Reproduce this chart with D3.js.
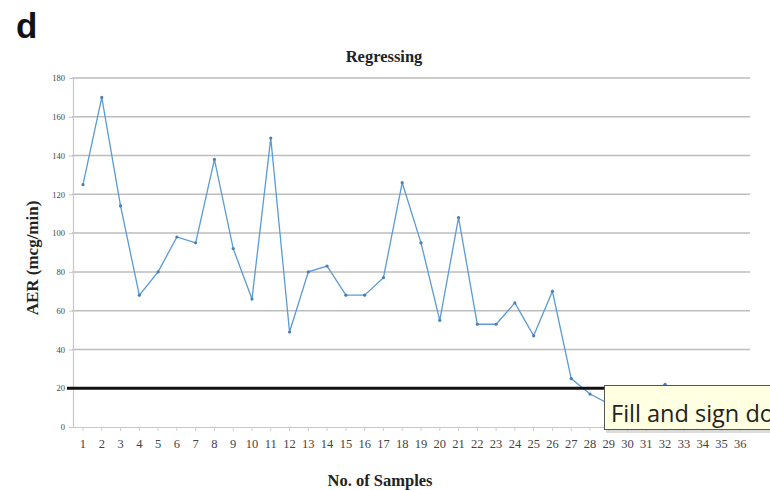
<!DOCTYPE html>
<html>
<head>
<meta charset="utf-8">
<script src="https://cdn.jsdelivr.net/npm/d3@7"></script>
<style>
  html, body { margin: 0; padding: 0; background: #fff; }
  svg { display: block; }
</style>
</head>
<body>
<svg id="chart" width="770" height="490"></svg>
<script>
// Sample numbers shown along the x axis
const samples = d3.range(1, 37);
// AER readings per sample (mcg/min)
const aerSamples = [1, 2, 3, 4, 5, 6, 7, 8, 9, 10, 11, 12, 13, 14, 15, 16, 17, 18, 19, 20, 21, 22, 23, 24, 25, 26, 27, 28, 29, 30, 31, 32];
const aerValues  = [125, 170, 114, 68, 80, 98, 95, 138, 92, 66, 149, 49, 80, 83, 68, 68, 77, 126, 95, 55, 108, 53, 53, 64, 47, 70, 25, 17, 12, 14, 17, 22];
// Y axis ticks
const yTicks = [0, 20, 40, 60, 80, 100, 120, 140, 160, 180];
// Reference threshold
const threshold = 20;

const svg = d3.select("#chart");

const x = d3.scaleBand().domain(samples).range([73.6, 749.6]).paddingInner(0).paddingOuter(0);
const y = d3.scaleLinear().domain([0, 180]).range([427, 78]);
const cx = d => x(d) + x.bandwidth() / 2;

// panel letter
svg.append("text")
  .attr("x", 16).attr("y", 38)
  .attr("font-family", "Liberation Sans, Arial, sans-serif")
  .attr("font-weight", "bold").attr("font-size", 35)
  .attr("fill", "#111").text("d");

// title
svg.append("text")
  .attr("x", 384).attr("y", 62)
  .attr("text-anchor", "middle")
  .attr("font-family", "Liberation Serif, Times New Roman, serif")
  .attr("font-weight", "bold").attr("font-size", 16.5)
  .attr("fill", "#222").text("Regressing");

// horizontal gridlines
svg.append("g").selectAll("line")
  .data(yTicks.filter(t => t > 0))
  .join("line")
  .attr("x1", 72).attr("x2", 750)
  .attr("y1", d => y(d)).attr("y2", d => y(d))
  .attr("stroke", "#bdbdbd").attr("stroke-width", 1.5);

// y axis
const yAxis = d3.axisLeft(y).tickValues(yTicks).tickSize(4).tickPadding(4);
const gy = svg.append("g").attr("transform", "translate(73,0)").call(yAxis);
gy.select(".domain").attr("stroke", "#c8c8c8").attr("stroke-width", 1.2);
gy.selectAll(".tick line").attr("stroke", "#c8c8c8");
gy.selectAll(".tick text")
  .attr("font-family", "Liberation Serif, Times New Roman, serif")
  .attr("font-size", 8.5).attr("fill", "#444");

// x axis
const xAxis = d3.axisBottom(x).tickSize(4).tickPadding(8).tickSizeOuter(0);
const gx = svg.append("g").attr("transform", "translate(0,427)").call(xAxis);
gx.select(".domain").attr("stroke", "#c8c8c8").attr("stroke-width", 1.2);
gx.selectAll(".tick line").attr("stroke", "#cfcfcf");
gx.selectAll(".tick text")
  .attr("font-family", "Liberation Serif, Times New Roman, serif")
  .attr("font-size", 12.5).attr("fill", "#444");

// axis titles
svg.append("text")
  .attr("x", 380).attr("y", 486)
  .attr("text-anchor", "middle")
  .attr("font-family", "Liberation Serif, Times New Roman, serif")
  .attr("font-weight", "bold").attr("font-size", 16.5)
  .attr("fill", "#222").text("No. of Samples");

svg.append("text")
  .attr("transform", "translate(38,258) rotate(-90)")
  .attr("text-anchor", "middle")
  .attr("font-family", "Liberation Serif, Times New Roman, serif")
  .attr("font-weight", "bold").attr("font-size", 17)
  .attr("fill", "#222").text("AER (mcg/min)");

// data line
const line = d3.line().x((d, i) => cx(aerSamples[i])).y(d => y(d));
svg.append("path")
  .datum(aerValues)
  .attr("d", line)
  .attr("fill", "none")
  .attr("stroke", "#5b9bd5").attr("stroke-width", 1.3);

svg.append("g").selectAll("circle")
  .data(aerValues)
  .join("circle")
  .attr("cx", (d, i) => cx(aerSamples[i]))
  .attr("cy", d => y(d))
  .attr("r", 1.6)
  .attr("fill", "#4a7fb5");

// threshold line
svg.append("line")
  .attr("x1", 67).attr("x2", 750)
  .attr("y1", y(threshold)).attr("y2", y(threshold))
  .attr("stroke", "#111").attr("stroke-width", 3);

// tooltip
const tip = svg.append("g").attr("transform", "translate(604,385)");
tip.append("rect")
  .attr("x", 2).attr("y", 2).attr("width", 200).attr("height", 46)
  .attr("fill", "#999").attr("opacity", 0.35);
tip.append("rect")
  .attr("x", 0.5).attr("y", 0.5).attr("width", 200).attr("height", 44)
  .attr("fill", "#ffffe1").attr("stroke", "#555").attr("stroke-width", 1);
tip.append("text")
  .attr("x", 7).attr("y", 37)
  .attr("font-family", "Open Sans, Noto Sans, sans-serif")
  .attr("font-size", 23.5)
  .attr("fill", "#222").text("Fill and sign do");
</script>
</body>
</html>
